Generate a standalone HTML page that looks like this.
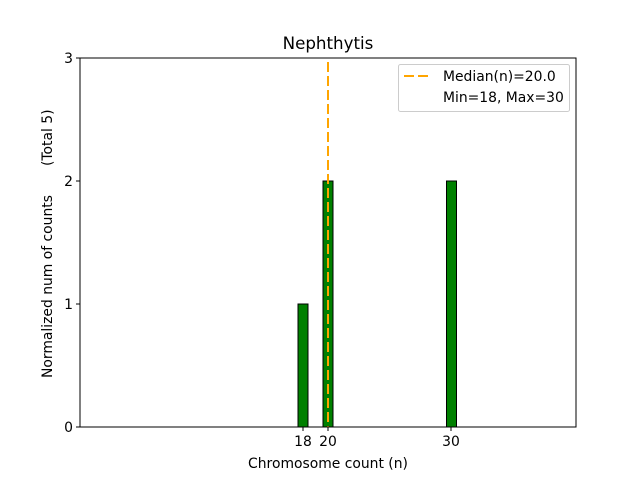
<!DOCTYPE html>
<html><head><style>body{margin:0;background:#fff}</style></head><body>
<svg width="640" height="480" xmlns="http://www.w3.org/2000/svg" font-family="DejaVu Sans, sans-serif">
<rect width="640" height="480" fill="#fff"/>
<rect x="298" y="304" width="10" height="123" fill="#008000" stroke="#000" stroke-width="1"/>
<rect x="323" y="181" width="10" height="246" fill="#008000" stroke="#000" stroke-width="1"/>
<rect x="446.5" y="181" width="10" height="246" fill="#008000" stroke="#000" stroke-width="1"/>
<line x1="328" y1="62" x2="328" y2="427" stroke="#ffa500" stroke-width="2" stroke-dasharray="10,4"/>
<rect x="80" y="58" width="496" height="369" fill="none" stroke="#000" stroke-width="1"/>
<g stroke="#000">
<line x1="76" y1="427" x2="80" y2="427"/><line x1="76" y1="304" x2="80" y2="304"/>
<line x1="76" y1="181" x2="80" y2="181"/><line x1="76" y1="58" x2="80" y2="58"/>
<line x1="303" y1="427" x2="303" y2="431"/><line x1="328" y1="427" x2="328" y2="431"/>
<line x1="451" y1="427" x2="451" y2="431"/>
</g>
<g font-size="13.9" text-anchor="end">
<text x="73" y="432">0</text><text x="73" y="309">1</text><text x="73" y="186">2</text><text x="73" y="63">3</text>
</g>
<g font-size="13.9" text-anchor="middle">
<text x="303" y="446">18</text><text x="328" y="446">20</text><text x="451" y="446">30</text>
<text x="328" y="468">Chromosome count (n)</text>
<text x="328" y="49" font-size="16.7">Nephthytis</text>
</g>
<text transform="translate(52,378) rotate(-90)" font-size="13.9">Normalized num of counts</text>
<text transform="translate(52,166) rotate(-90)" font-size="13.9">(Total 5)</text>
<rect x="398.5" y="64.5" width="171" height="47" rx="2" fill="#fff" stroke="#ccc"/>
<line x1="404" y1="76" x2="432" y2="76" stroke="#ffa500" stroke-width="2" stroke-dasharray="10,4"/>
<text x="443" y="81" font-size="13.9">Median(n)=20.0</text>
<text x="443" y="102" font-size="13.9">Min=18, Max=30</text>
</svg>
</body></html>
